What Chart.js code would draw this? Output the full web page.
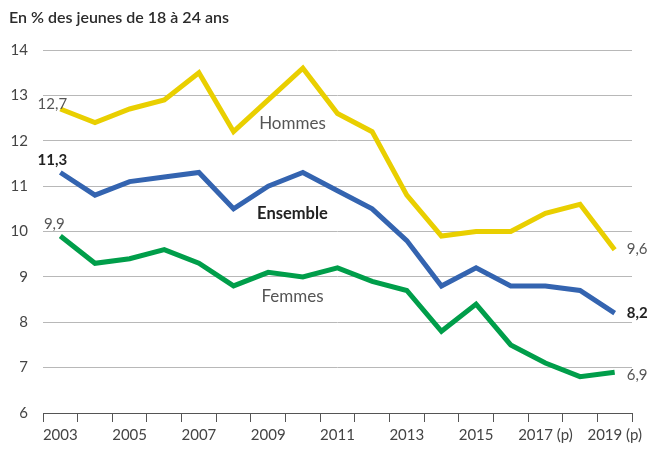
<!DOCTYPE html>
<html>
<head>
<meta charset="utf-8">
<script src="https://cdn.jsdelivr.net/npm/chart.js@4"></script>
<style>
  html, body { margin: 0; padding: 0; background: #fff; }
  #wrap { position: relative; width: 655px; height: 450px; }
</style>
</head>
<body>
<div id="wrap"><canvas id="chart" width="655" height="450"></canvas></div>
<script>
// Données : part des jeunes de 18 à 24 ans (en %)
const annees = ['2003', '2004', '2005', '2006', '2007', '2008', '2009', '2010', '2011',
                '2012', '2013', '2014', '2015', '2016', '2017 (p)', '2018 (p)', '2019 (p)'];
const hommes   = [12.7, 12.4, 12.7, 12.9, 13.5, 12.2, 12.9, 13.6, 12.6, 12.2, 10.8, 9.9, 10.0, 10.0, 10.4, 10.6, 9.6];
const ensemble = [11.3, 10.8, 11.1, 11.2, 11.3, 10.5, 11.0, 11.3, 10.9, 10.5, 9.8, 8.8, 9.2, 8.8, 8.8, 8.7, 8.2];
const femmes   = [9.9, 9.3, 9.4, 9.6, 9.3, 8.8, 9.1, 9.0, 9.2, 8.9, 8.7, 7.8, 8.4, 7.5, 7.1, 6.8, 6.9];
const yTicks   = [6, 7, 8, 9, 10, 11, 12, 13, 14];

const FONT = 'Lato, "Open Sans", sans-serif';
const fmt = v => v.toFixed(1).replace('.', ',');

// Titre + étiquettes (valeurs de début/fin, noms des séries)
const etiquettes = {
    id: 'etiquettes',
    afterDatasetsDraw(chart) {
        const c = chart.ctx;
        const x = chart.scales.x, y = chart.scales.y;
        const last = annees.length - 1;
        c.save();
        c.textBaseline = 'middle';

        // titre
        c.fillStyle = '#2b2b2b';
        c.font = '600 16px ' + FONT;
        c.textAlign = 'left';
        c.fillText('En % des jeunes de 18 à 24 ans', 9, 18);

        const txt = (s, px, py, bold, align, size) => {
            c.font = (bold ? '700 ' : '400 ') + (size || 15) + 'px ' + FONT;
            c.fillStyle = bold ? '#222' : '#555';
            c.textAlign = align || 'center';
            c.fillText(s, px, py);
        };

        // valeurs de début
        txt(fmt(hommes[0]), x.getPixelForValue(0) - 8, y.getPixelForValue(hommes[0]) - 5, false);
        txt(fmt(ensemble[0]), x.getPixelForValue(0) - 8, y.getPixelForValue(ensemble[0]) - 12, true);
        txt(fmt(femmes[0]), x.getPixelForValue(0) - 6, y.getPixelForValue(femmes[0]) - 12, false);

        // valeurs de fin
        const xr = x.getPixelForValue(last) + 12;
        txt(fmt(hommes[last]), xr, y.getPixelForValue(hommes[last]), false, 'left');
        txt(fmt(ensemble[last]), xr, y.getPixelForValue(ensemble[last]), true, 'left');
        txt(fmt(femmes[last]), xr, y.getPixelForValue(femmes[last]) + 3, false, 'left');

        // noms des séries
        const xn = x.getPixelForValue(6.7);
        txt('Hommes', xn, y.getPixelForValue(12.37), false, 'center', 17);
        txt('Ensemble', xn, y.getPixelForValue(10.4), true, 'center', 16.5);
        txt('Femmes', xn, y.getPixelForValue(8.56), false, 'center', 17);
        c.restore();
    }
};

const serie = (data, color) => ({
    data: data,
    borderColor: color,
    backgroundColor: color,
    borderWidth: 5,
    pointRadius: 0,
    tension: 0,
    fill: false
});

new Chart(document.getElementById('chart'), {
    type: 'line',
    data: {
        labels: annees,
        datasets: [
            serie(hommes, '#E9CF00'),
            serie(ensemble, '#3464B0'),
            serie(femmes, '#009E4A')
        ]
    },
    options: {
        responsive: false,
        animation: false,
        layout: { padding: { top: 50, right: 23, left: 0, bottom: 0 } },
        plugins: {
            legend: { display: false },
            tooltip: { enabled: false },
            title: { display: false }
        },
        scales: {
            x: {
                offset: true,
                grid: {
                    offset: true,
                    drawOnChartArea: false,
                    drawTicks: true,
                    tickLength: 9,
                    color: '#555'
                },
                border: { display: true, color: '#555', width: 1 },
                ticks: {
                    autoSkip: false,
                    maxRotation: 0,
                    padding: 4,
                    color: '#444',
                    font: { family: FONT, size: 15 },
                    callback: (v, i) => i % 2 === 0 ? annees[i] : ''
                },
                afterFit: s => { s.height = 37; }
            },
            y: {
                min: 6,
                max: 14,
                afterBuildTicks: s => { s.ticks = yTicks.map(v => ({ value: v })); },
                grid: { color: '#b8b8b8', lineWidth: 1, drawTicks: false },
                border: { display: false },
                ticks: {
                    padding: 15,
                    color: '#444',
                    font: { family: FONT, size: 15 },
                    callback: v => String(v)
                },
                afterFit: s => { s.width = 43; }
            }
        }
    },
    plugins: [etiquettes]
});
</script>
</body>
</html>
